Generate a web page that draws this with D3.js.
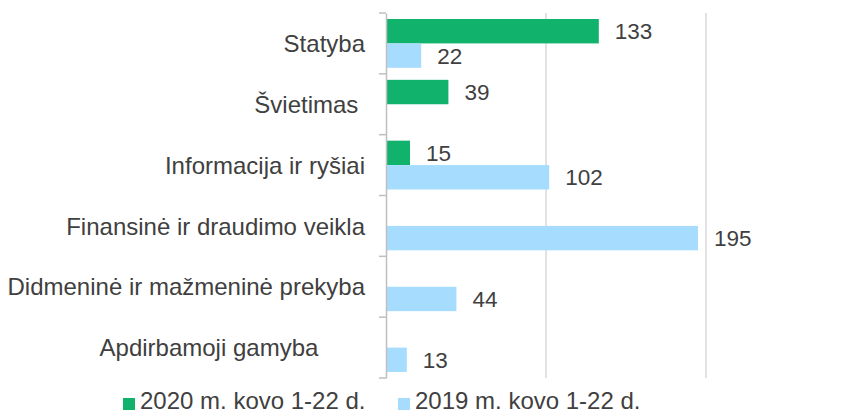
<!DOCTYPE html>
<html><head><meta charset="utf-8">
<script src="https://cdn.jsdelivr.net/npm/d3@7"></script>
<style>
html,body{margin:0;padding:0;background:#fff;}
svg{display:block;font-family:"Liberation Sans",Arial,sans-serif;}
text{white-space:pre;}
</style></head>
<body><svg id="c" width="855" height="412"></svg>
<script>
const categories = ["Statyba","Švietimas\u00a0","Informacija ir ryšiai","Finansinė ir draudimo veikla","Didmeninė ir mažmeninė prekyba","Apdirbamoji gamyba\u00a0\u00a0\u00a0\u00a0\u00a0\u00a0\u00a0"];
const seriesNames = ["2020 m. kovo 1-22 d.","2019 m. kovo 1-22 d."];
const values2020 = [133, 39, 15, null, null, null];
const values2019 = [22, null, 102, 195, 44, 13];
const gridTicks = [100, 200];
const colors = ["#10b26c", "#a6ddfe"];

const svg = d3.select("#c");
const x = d3.scaleLinear().domain([0,200]).range([386,706]);
const y0 = d3.scaleBand().domain(categories).range([13,378]).padding(0);
const y1 = d3.scaleBand().domain(seriesNames).range([6, y0.bandwidth()-6]).padding(0);
const textColor = "#404040";

// gridlines
svg.append("g").selectAll("line").data(gridTicks).join("line")
  .attr("x1", d=>x(d)).attr("x2", d=>x(d))
  .attr("y1", 13).attr("y2", 378)
  .attr("stroke", "#d9d9d9").attr("stroke-width", 1.5);

// bars
const rows = categories.map((c,i)=>({cat:c, vals:[values2020[i], values2019[i]]}));
const grp = svg.append("g").selectAll("g").data(rows).join("g")
  .attr("transform", d=>`translate(0,${y0(d.cat)})`);
grp.selectAll("rect").data(d=>d.vals.map((v,j)=>({v, s:seriesNames[j], j})).filter(e=>e.v!=null))
  .join("rect")
  .attr("x", x(0)).attr("y", e=>y1(e.s))
  .attr("width", e=>x(e.v)-x(0)).attr("height", y1.bandwidth())
  .attr("fill", e=>colors[e.j]);
grp.selectAll("text").data(d=>d.vals.map((v,j)=>({v, s:seriesNames[j], j})).filter(e=>e.v!=null))
  .join("text")
  .attr("x", e=>x(e.v)+16).attr("y", e=>y1(e.s)+y1.bandwidth()/2)
  .attr("dy","0.36em")
  .attr("font-size", 22.5).attr("fill", textColor)
  .text(e=>e.v);

// y axis
const yAxis = d3.axisLeft(y0).tickSize(0).tickPadding(21);
const ga = svg.append("g").attr("transform", `translate(${x(0)},0)`).call(yAxis);
ga.select(".domain").attr("stroke","#bfbfbf").attr("stroke-width",1.5);
ga.selectAll(".tick text").attr("font-size",24).attr("fill",textColor).attr("font-family","Liberation Sans, Arial, sans-serif").attr("dy","0.36em");
// boundary tick marks
const bounds = categories.map(c=>y0(c)).concat([y0.range()[1]]);
svg.append("g").selectAll("line").data(bounds).join("line")
  .attr("x1", x(0)-7).attr("x2", x(0))
  .attr("y1", d=>d).attr("y2", d=>d)
  .attr("stroke","#bfbfbf").attr("stroke-width",1.5);

// legend
const lg = svg.append("g");
const lx = [123, 398];
seriesNames.forEach((s,i)=>{
  lg.append("rect").attr("x", lx[i]).attr("y", 398).attr("width",12).attr("height",12).attr("fill",colors[i]);
  lg.append("text").attr("x", lx[i]+17).attr("y",409)
    .attr("font-size",24).attr("fill",textColor).text(s);
});
</script></body></html>
